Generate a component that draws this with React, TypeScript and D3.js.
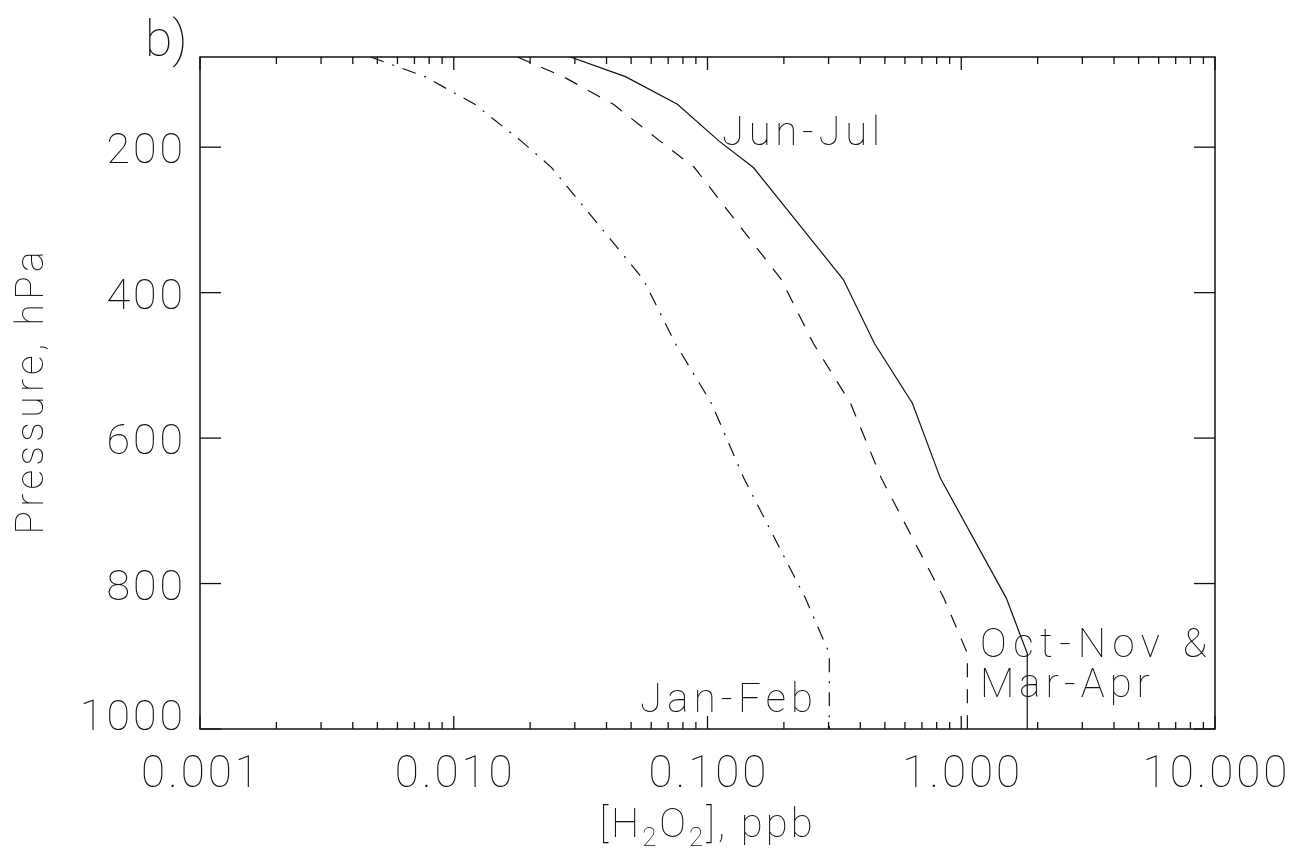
import React from "react";
import * as d3 from "d3";

// Pressure levels (hPa) of the profiles, top of the plot down to the surface
const pressureLevels = [76, 103, 141, 192, 228, 382, 470, 552, 655, 820, 896, 1000];

// H2O2 mixing ratio (ppb) at each level for each season
const junJul = [0.0288, 0.0475, 0.0761, 0.1114, 0.1517, 0.343, 0.455, 0.642, 0.827, 1.505, 1.82, 1.82];
const octNovMarApr = [0.0178, 0.027, 0.0426, 0.0652, 0.0888, 0.1955, 0.2615, 0.366, 0.484, 0.854, 1.057, 1.057];
const janFeb = [0.0047, 0.0077, 0.0121, 0.0185, 0.0243, 0.0559, 0.0747, 0.1036, 0.139, 0.243, 0.302, 0.302];

// Axis ticks
const xMajorTicks = [0.001, 0.01, 0.1, 1, 10];
const xTickLabels = ["0.001", "0.010", "0.100", "1.000", "10.000"];
const yTicks = [200, 400, 600, 800, 1000];
const yTickLabels = ["200", "400", "600", "800", "1000"];

const W = 1291;
const H = 852;
const plot = { left: 200, right: 1215, top: 57, bottom: 729 };
const FONT = "Roboto, 'DejaVu Sans', sans-serif";
const INK = "#111";

export default function App() {
  const x = d3.scaleLog().domain([0.001, 10]).range([plot.left, plot.right]);
  const y = d3.scaleLinear().domain([76, 1000]).range([plot.top, plot.bottom]);

  const profile = (vals: number[]) =>
    d3
      .line<number>()
      .x((v) => x(v))
      .y((_, i) => y(pressureLevels[i]))(vals) || "";

  const xMinorTicks: number[] = [];
  xMajorTicks.slice(0, -1).forEach((d) => {
    for (let k = 2; k <= 9; k++) xMinorTicks.push(d * k);
  });

  const textStyle = { fontFamily: FONT, fontWeight: 100, fill: INK } as const;

  return (
    <svg
      width={W}
      height={H}
      viewBox={`0 0 ${W} ${H}`}
      style={{ position: "absolute", left: 0, top: 0, background: "#fff" }}
    >
      <defs>
        <clipPath id="plot-area">
          <rect x={plot.left} y={plot.top} width={plot.right - plot.left} height={plot.bottom - plot.top} />
        </clipPath>
        {/* grayscale rendering of the glyphs */}
        <filter id="mono" x={0} y={0} width={W} height={H} filterUnits="userSpaceOnUse">
          <feColorMatrix type="saturate" values="0" />
        </filter>
      </defs>
      <rect x={0} y={0} width={W} height={H} fill="#fff" />

      {/* profiles */}
      <g clipPath="url(#plot-area)" fill="none" stroke={INK} strokeWidth={1.2}>
        <path d={profile(junJul)} />
        <path d={profile(octNovMarApr)} strokeDasharray="14,12" />
        <path d={profile(janFeb)} strokeDasharray="14,9,2,9" />
      </g>

      {/* frame */}
      <rect
        x={plot.left}
        y={plot.top}
        width={plot.right - plot.left}
        height={plot.bottom - plot.top}
        fill="none"
        stroke={INK}
        strokeWidth={1.5}
      />

      {/* ticks on all four sides */}
      <g stroke={INK} strokeWidth={1.3}>
        {xMajorTicks.map((t) => (
          <g key={"xM" + t}>
            <line x1={x(t)} x2={x(t)} y1={plot.bottom} y2={plot.bottom - 13} />
            <line x1={x(t)} x2={x(t)} y1={plot.top} y2={plot.top + 13} />
          </g>
        ))}
        {xMinorTicks.map((t) => (
          <g key={"xm" + t}>
            <line x1={x(t)} x2={x(t)} y1={plot.bottom} y2={plot.bottom - 7} />
            <line x1={x(t)} x2={x(t)} y1={plot.top} y2={plot.top + 7} />
          </g>
        ))}
        {yTicks.map((t) => (
          <g key={"y" + t}>
            <line x1={plot.left} x2={plot.left + 21} y1={y(t)} y2={y(t)} />
            <line x1={plot.right} x2={plot.right - 21} y1={y(t)} y2={y(t)} />
          </g>
        ))}
      </g>

      <g filter="url(#mono)">
        {/* tick labels */}
        <g {...textStyle} fontSize={44} letterSpacing={3}>
          {xMajorTicks.map((t, i) => (
            <text key={"xl" + t} x={x(t) + 1.5} y={787} textAnchor="middle">
              {xTickLabels[i]}
            </text>
          ))}
        </g>
        <g {...textStyle} fontSize={43} letterSpacing={3}>
          {yTicks.map((t, i) => (
            <text
              key={"yl" + t}
              x={186}
              y={t === 1000 ? plot.bottom + 1 : y(t) + 16}
              textAnchor="end"
            >
              {yTickLabels[i]}
            </text>
          ))}
        </g>

        {/* axis titles */}
        <text
          {...textStyle}
          fontSize={40}
          letterSpacing={3}
          x={(plot.left + plot.right) / 2}
          y={837}
          textAnchor="middle"
        >
          [H
          <tspan fontSize={26} dy={9}>2</tspan>
          <tspan dy={-9}>O</tspan>
          <tspan fontSize={26} dy={9}>2</tspan>
          <tspan dy={-9}>], ppb</tspan>
        </text>
        <text
          {...textStyle}
          fontSize={39}
          textAnchor="middle"
          textLength={283}
          lengthAdjust="spacing"
          transform={`translate(43, ${(plot.top + plot.bottom) / 2}) rotate(-90)`}
        >
          Pressure, hPa
        </text>

        {/* panel letter */}
        <text {...textStyle} fontSize={50} x={145} y={56}>
          b)
        </text>

        {/* season labels */}
        <g {...textStyle} fontSize={40}>
          <text x={722} y={145} textLength={158} lengthAdjust="spacing">Jun-Jul</text>
          <text x={640} y={712} textLength={173} lengthAdjust="spacing">Jan-Feb</text>
          <text x={980} y={657} textLength={227} lengthAdjust="spacing">Oct-Nov &amp;</text>
          <text x={980} y={697} textLength={170} lengthAdjust="spacing">Mar-Apr</text>
        </g>
      </g>
    </svg>
  );
}
